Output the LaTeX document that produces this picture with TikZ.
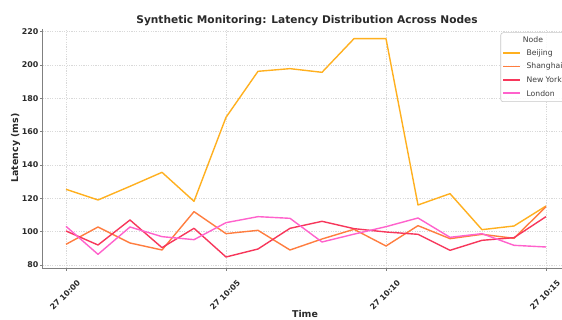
\documentclass[tikz,border=0pt]{standalone}
\usepackage{fontspec}
\setmainfont{DejaVu Sans}
\usepackage{xcolor}
\usepackage{tikz}
\usetikzlibrary{positioning,calc}

\definecolor{beijingc}{HTML}{FFB01F}
\definecolor{shanghaic}{HTML}{FF7D3F}
\definecolor{newyorkc}{HTML}{F7375B}
\definecolor{londonc}{HTML}{FF62CC}
\definecolor{textdark}{HTML}{2A2A2A}
\definecolor{spinec}{HTML}{808080}
\definecolor{gridc}{HTML}{D9D9D9}

\begin{document}
\begin{tikzpicture}[x=1pt, y=1pt,
    gridline/.style={gridc, line width=0.6pt, dash pattern=on 1.2pt off 1.2pt},
    spine/.style={spinec, line width=1.2pt},
    series/.style={line width=1.4pt, line join=round},
    ticklabel/.style={font=\fontsize{7.9}{9}\selectfont\bfseries, text=textdark, inner sep=0pt},
    axislabel/.style={font=\fontsize{9.4}{11}\selectfont\bfseries, text=textdark},
    legendtext/.style={font=\fontsize{7.7}{9}\selectfont, text=textdark!90, inner sep=0pt}]

    \clip (0,0) rectangle (562,320);
    \fill[white] (0,0) rectangle (562,320);

    % plotting area: minutes on x, latency (ms) on y
    \begin{scope}[shift={(66pt,-78.33pt)}, x=32pt, y=1.6667pt]
        % grid
        \foreach \v in {80,100,...,220}
            \draw[gridline] (-0.73,\v) -- (15.75,\v);
        \foreach \m in {0,5,10,15}
            \draw[gridline] (\m,77.9) -- (\m,221.7);

        % series
        \draw[series, beijingc] plot coordinates {(0,125.4) (1,119) (2,127.2) (3,135.6) (4,118.2) (5,168.6) (6,196.2) (7,197.8) (8,195.6) (9,215.8) (10,215.8) (11,116) (12,122.8) (13,101.2) (14,103.4) (15,115.4)};
        \draw[series, shanghaic] plot coordinates {(0,92.4) (1,102.8) (2,93.2) (3,89) (4,112) (5,98.8) (6,100.8) (7,89) (8,95.6) (9,101.4) (10,91.4) (11,103.6) (12,95.8) (13,98.4) (14,96) (15,115)};
        \draw[series, newyorkc] plot coordinates {(0,100.4) (1,92) (2,107) (3,90.4) (4,102) (5,84.8) (6,89.6) (7,102) (8,106.2) (9,101.8) (10,99.8) (11,98.4) (12,88.8) (13,94.8) (14,96.4) (15,109)};
        \draw[series, londonc] plot coordinates {(0,103.2) (1,86.4) (2,102.8) (3,97) (4,95.2) (5,105.4) (6,109) (7,108) (8,93.8) (9,98.5) (10,103) (11,108.2) (12,96.6) (13,98.8) (14,91.8) (15,90.8)};

        % spines
        \coordinate (origin) at (-0.73,77.9);
        \coordinate (ytop) at (-0.73,221.7);
        \coordinate (xend) at (15.75,77.9);
        \draw[spine] (ytop) -- (origin) -- (xend);

        % y ticks
        \foreach \v in {80,100,...,220} {
            \draw[spine, line width=0.8pt] (-0.73,\v) -- ++(-3pt,0);
            \node[ticklabel, anchor=east] (ytick\v) at ([xshift=-4pt]-0.73,\v) {\v};
        }
        % x ticks
        \foreach \m/\t in {0/00,5/05,10/10,15/15} {
            \draw[spine, line width=0.8pt] (\m,77.9) -- ++(0,-3pt);
            \node[ticklabel, rotate=45] (xtick\m) at ([xshift=-1pt]\m,62) {27 10:\t};
        }
    \end{scope}

    % titles
    \node[font=\fontsize{10.6}{12}\selectfont\bfseries, text=textdark, anchor=base] (title) at (307,296) {Synthetic Monitoring: Latency Distribution Across Nodes};
    \node[axislabel, rotate=90] (ylabel) at (15.5,172) {Latency (ms)};
    \node[axislabel] (xlabel) at (305,6) {Time};

    % legend
    \draw[rounded corners=2.5pt, draw=gridc!80!gray, fill=white, fill opacity=0.85, line width=0.6pt] (500.7,218.3) rectangle (590,287.3);
    \node[legendtext] (legtitle) at (533,280) {Node};
    \foreach \c/\n/\y in {beijingc/Beijing/266.7, shanghaic/Shanghai/253.3, newyorkc/New York/240, londonc/London/226.7} {
        \draw[\c, line width=1.6pt] (503,\y) -- (520,\y);
        \node[legendtext, anchor=west] (leg\c) at (526.3,\y) {\n};
    }
\end{tikzpicture}
\end{document}
